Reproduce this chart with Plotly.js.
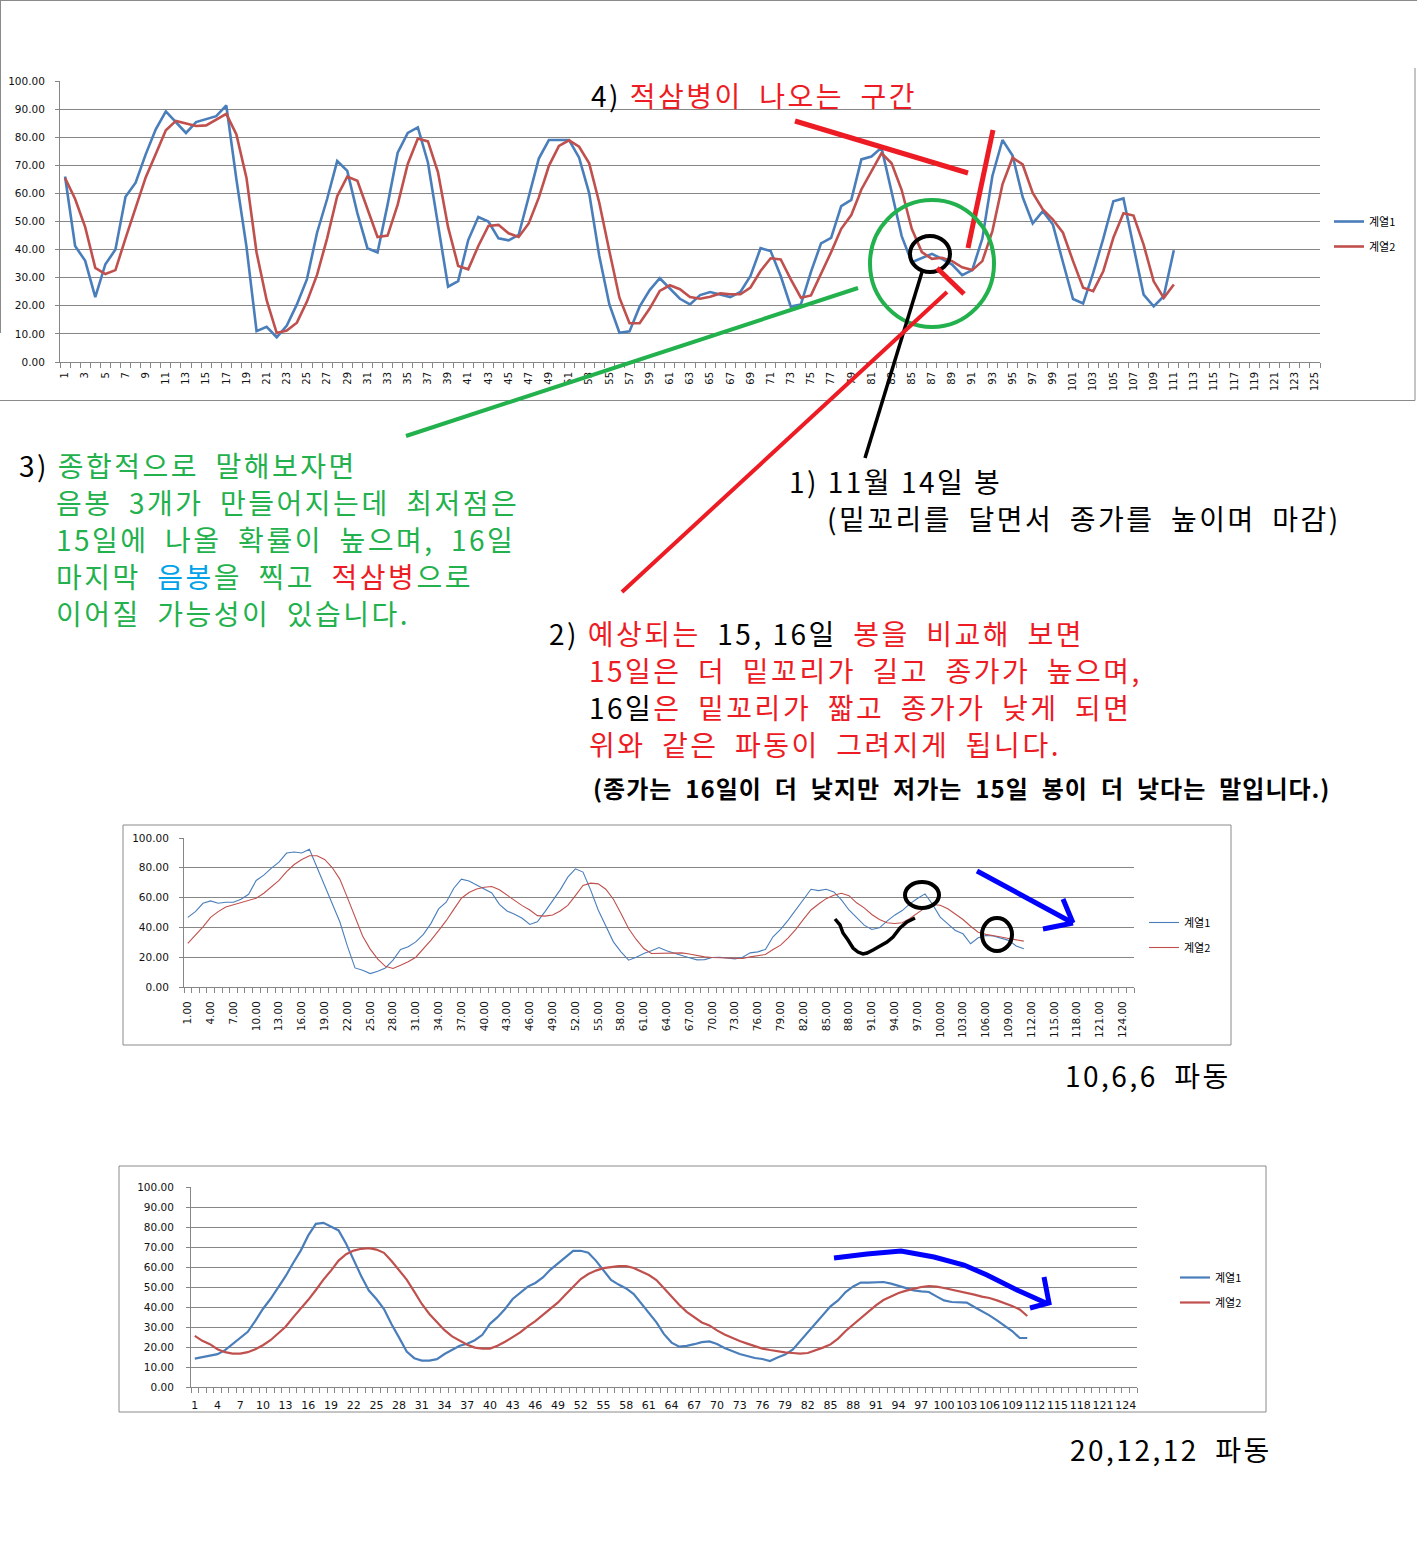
<!DOCTYPE html>
<html>
<head>
<meta charset="utf-8">
<script src="https://cdn.plot.ly/plotly-3.0.1.min.js"></script>
<style>
html,body{margin:0;padding:0;background:#fff;}
#chart{width:1417px;height:1559px;}
.annotation-text{letter-spacing:2.5px;}
</style>
</head>
<body>
<div id="chart"></div>
<script>
// ---------------- DATA ----------------
const days = [1,2,3,4,5,6,7,8,9,10,11,12,13,14,15,16,17,18,19,20,21,22,23,24,25,26,27,28,29,30,31,32,33,34,35,36,37,38,39,40,41,42,43,44,45,46,47,48,49,50,51,52,53,54,55,56,57,58,59,60,61,62,63,64,65,66,67,68,69,70,71,72,73,74,75,76,77,78,79,80,81,82,83,84,85,86,87,88,89,90,91,92,93,94,95,96,97,98,99,100,101,102,103,104,105,106,107,108,109,110,111];

// Chart 1 (top)
const top1 = [66,41.3,36,23.1,34.8,40,58.8,63.8,73.9,82.8,89.2,85.2,81.5,85.4,86.4,87.5,91.3,65,41,11,12.5,8.8,13,20.5,29.5,46,58,71.5,68,53,40.5,39,56,74.5,81.5,83.5,71,49,26.8,28.8,43.4,51.6,50,44,43.3,45.2,58.5,72.4,79,79,79,72.7,60,37.7,20.5,10.4,10.9,19.7,25.6,29.8,26.1,22.5,20.5,23.8,24.9,24.1,23.1,24.9,30.6,40.5,39.5,30.6,19.7,20.5,32.1,42.2,44.2,55.5,57.7,72.1,73.1,76.3,60.2,44.8,35.5,37,38.5,36.7,34.7,30.9,32.7,43.9,66.2,79,73.5,58.7,49.3,53.7,48.9,35.5,22.4,20.8,31.7,43.9,57.2,58.2,40.6,24,19.8,23.4,39.8];
const top2 = [65.5,58,48,33.5,31.3,32.7,44,55,65.7,74,82.5,85.8,85,84,84.2,86.3,88.3,81,65.5,39,22,10.3,11.2,14,21.5,31,44,59,66,64.5,54.5,44.5,45,56,70.5,79.5,78.5,67.5,48,34.2,33,41.3,48.4,48.8,45.8,44.5,49.3,58.5,69.8,76.9,78.9,76.6,70.7,56.7,39.5,22.9,13.8,13.8,19,25.3,27.3,25.9,23.1,22.5,23.2,24.4,24.1,24.1,26.5,32.4,36.9,36.5,29.4,22.9,23.7,31.2,39.1,47.4,52.3,61.4,68,74.3,70.7,61.2,47.4,39.1,36.7,37.1,35.9,33.7,32.7,35.9,46.6,63.2,72.7,70.3,60.2,54.3,50.7,46,35.9,26.4,25.2,32.3,44.2,52.9,52.1,41.8,28.7,22.8,27.6];

// Chart 2 (10,6,6)
const mid1 = [46.7,50.6,56.2,57.8,56.2,56.9,56.9,58.9,62.2,71.5,75.1,79.8,83.8,89.9,90.6,89.9,92.4,80.2,69,56.6,43.8,27.4,12.8,11.2,9,10.6,12.8,18,25.2,27,30.3,35.3,42.7,52.4,56.9,66.3,72.4,71.2,68.5,66.1,63.1,55.5,51,48.8,46.1,42,43.8,50.6,57.8,65.2,73.7,79.3,77.1,65.2,51.7,40.9,30.3,23.6,18,20,22.5,24.3,26.5,24.3,22.5,21.1,19.6,18.2,18.4,19.8,20,19.6,18.9,20,22.9,23.6,25.2,33.7,38.7,44.9,51.7,59.1,65.6,64.7,65.6,63.8,58.4,51.7,46.4,41.5,38.6,39.7,44.2,48.2,51.3,55.8,59.4,62.5,55.4,46.9,42.4,37.9,35.7,29,33,34.6,34.2,33,31.3,27.5,25.7];
const mid2 = [29.2,34.6,40.4,46.7,50.6,53.7,55.1,56.4,57.8,59.6,62.9,67.4,71.5,77.5,82.2,85.6,88.1,88.1,85.6,80.2,72.4,60,46.7,34.2,25.4,18.7,13.9,12.4,14.6,16.9,20,25.4,31.5,37.8,44.5,52.1,59.6,63.4,65.8,67,67.4,65.2,61.8,57.8,54.6,51.7,47.9,47.6,48.3,51,54.8,61.3,68.1,69.7,69.2,65.6,58.9,49.4,39.3,31.9,25.8,22.5,22.5,22.7,22.9,22.9,22.2,21.1,20.2,19.8,19.6,19.3,19.1,19.1,20.2,20.9,21.8,25.2,28.1,33,38.7,45.4,51.7,55.7,59.3,61.6,62.9,61.3,56.5,53.1,48.7,45.3,43.1,42.6,43.1,46,49.8,53.1,55.4,54.9,52.5,49.1,45.3,40.8,36.8,35.3,34.2,33.5,32.6,31.9,30.8];

// Chart 3 (20,12,12)
const bot1 = [14.2,15,15.6,16.4,18.4,21.4,24.4,27.6,33.1,39,44,49.8,55.4,62,68.2,75.8,81.6,82.1,80.3,78.3,71.6,63.2,55.4,48.2,44,39,31.4,24.7,17.7,14.4,13.2,13.2,13.9,16.5,18.6,20.6,21.6,23.4,26.1,31.6,34.9,39,44,47.3,50.2,52,54.8,58.7,62,64.9,68.1,68.1,67.1,63.2,58.5,53.5,51.2,49.3,46.5,41.8,37.3,32.3,26.4,22.2,20.2,20.6,21.4,22.4,22.8,21.5,19.5,17.8,16.5,15.5,14.5,14,13,14.7,16.2,18.7,23,27.5,32,36.3,40.3,43.3,47.5,50.3,52.2,52.2,52.2,52.5,51.7,50.5,49.2,48.3,47.8,47.5,45.3,43.3,42.5,42.3,42.2,40,38,35.8,33.3,30.8,28,24.5,24.5];
const bot2 = [25.6,23.1,21.4,18.9,17.4,16.7,16.7,17.4,18.9,20.9,23.4,26.8,30.1,34.8,39,43.6,48.5,53.7,58.2,63.2,66.4,68.2,69.1,69.4,68.7,67.1,63,58.5,53.7,47.7,41.5,36.5,32.3,28.4,25.3,23.1,21.1,19.7,19.2,19.2,20.6,22.6,25.1,27.3,30.3,32.9,36.1,39.3,42.3,46.2,50.2,54,56.5,58.2,59.4,60,60.4,60.4,59.5,57.7,56,53.5,49.3,44.8,41.1,37.6,34.8,32.3,30.8,28.3,26.3,24.5,23,21.7,20.3,19.2,18.5,17.8,17.3,17,16.7,17,18.2,19.7,21.3,24.2,28,31.2,34.5,37.8,40.8,43.5,45.3,47,48.2,49.2,50,50.5,50.2,49.5,48.7,48,47.2,46.2,45.2,44.5,43.3,42,40.5,38.8,35.5];

const seriesNames = ["계열1", "계열2"];

// tick labels
const topTicks = [1,3,5,7,9,11,13,15,17,19,21,23,25,27,29,31,33,35,37,39,41,43,45,47,49,51,53,55,57,59,61,63,65,67,69,71,73,75,77,79,81,83,85,87,89,91,93,95,97,99,101,103,105,107,109,111,113,115,117,119,121,123,125];
const lowTicks = [1,4,7,10,13,16,19,22,25,28,31,34,37,40,43,46,49,52,55,58,61,64,67,70,73,76,79,82,85,88,91,94,97,100,103,106,109,112,115,118,121,124];
const midTickText = ["1.00","4.00","7.00","10.00","13.00","16.00","19.00","22.00","25.00","28.00","31.00","34.00","37.00","40.00","43.00","46.00","49.00","52.00","55.00","58.00","61.00","64.00","67.00","70.00","73.00","76.00","79.00","82.00","85.00","88.00","91.00","94.00","97.00","100.00","103.00","106.00","109.00","112.00","115.00","118.00","121.00","124.00"];
const botTickText = ["1","4","7","10","13","16","19","22","25","28","31","34","37","40","43","46","49","52","55","58","61","64","67","70","73","76","79","82","85","88","91","94","97","100","103","106","109","112","115","118","121","124"];

// ---------------- HELPERS ----------------
const W = 1417, H = 1559;
const px = x => x / W;
const py = y => 1 - y / H;
const BLUE = '#4a7ebb', RED = '#c0504d';
const GRID = '#868686';
const PRED = '#ed1c24', PGREEN = '#22b14c', PBLUE = '#00a2e8';
const KFONT = 'Noto Sans CJK KR, Noto Sans, sans-serif';
const NFONT = 'DejaVu Sans, Verdana, sans-serif';

const boundaries = [];
for (let i = 0; i <= 125; i++) boundaries.push(i + 0.5);

function tr(y, xa, ya, name, color, width, leg, grp) {
  return {x: days, y: y, xaxis: xa, yaxis: ya, name: name, mode: 'lines',
    line: {color: color, width: width}, legend: leg, legendgroup: grp, hoverinfo: 'skip'};
}

const data = [
  tr(top1, 'x', 'y', seriesNames[0], BLUE, 2.6, 'legend', 'a1'),
  tr(top2, 'x', 'y', seriesNames[1], RED, 2.6, 'legend', 'a2'),
  tr(mid1, 'x2', 'y2', seriesNames[0], BLUE, 1.1, 'legend2', 'b1'),
  tr(mid2, 'x2', 'y2', seriesNames[1], RED, 1.1, 'legend2', 'b2'),
  tr(bot1, 'x3', 'y3', seriesNames[0], BLUE, 2.2, 'legend3', 'c1'),
  tr(bot2, 'x3', 'y3', seriesNames[1], RED, 2.2, 'legend3', 'c2')
];

function xax(d0, d1, anchor, tickvals, ticktext, angle, fsize, standoff) {
  return {domain: [px(d0), px(d1)], anchor: anchor, range: [0.5, 125.5],
    tickmode: 'array', tickvals: tickvals, ticktext: ticktext, tickangle: angle,
    tickfont: {family: NFONT, size: fsize, color: '#111'},
    ticks: 'outside', ticklen: 5, tickcolor: 'rgba(0,0,0,0)', ticklabelstandoff: standoff,
    showline: true, linecolor: GRID, linewidth: 1, showgrid: false, zeroline: false,
    minor: {tickmode: 'array', tickvals: boundaries, ticks: 'outside', ticklen: 5, tickcolor: GRID, tickwidth: 1, showgrid: false},
    fixedrange: true};
}
function yax(top, bottom, anchor, dtick, fsize, standoff) {
  return {domain: [py(bottom), py(top)], anchor: anchor, range: [0, 100],
    tickmode: 'linear', tick0: 0, dtick: dtick, tickformat: '.2f',
    tickfont: {family: NFONT, size: fsize, color: '#111'},
    ticks: 'outside', ticklen: 4, tickcolor: GRID, ticklabelstandoff: standoff,
    showline: true, linecolor: GRID, linewidth: 1, showgrid: true, gridcolor: GRID, gridwidth: 1,
    zeroline: false, fixedrange: true};
}

function ann(x, y, text, size, color, extra) {
  return Object.assign({xref: 'paper', yref: 'paper', x: px(x), y: py(y), xanchor: 'left', yanchor: 'middle',
    text: text, showarrow: false, align: 'left',
    font: {family: KFONT, size: size, color: color || '#000'}}, extra || {});
}
const S = '\u2002';
const sp = (c, t) => '<span style="color:' + c + '">' + t + '</span>';

const annotations = [
  ann(589, 95, '4) ' + sp(PRED, '적삼병이' + S + '나오는' + S + '구간'), 28),
  ann(17, 465, '3) ' + sp(PGREEN, '종합적으로' + S + '말해보자면'), 28),
  ann(54, 502, sp(PGREEN, '음봉' + S + '3개가' + S + '만들어지는데' + S + '최저점은'), 28),
  ann(54, 539, sp(PGREEN, '15일에' + S + '나올' + S + '확률이' + S + '높으며,' + S + '16일'), 28),
  ann(54, 576, sp(PGREEN, '마지막' + S) + sp(PBLUE, '음봉') + sp(PGREEN, '을' + S + '찍고' + S) + sp(PRED, '적삼병') + sp(PGREEN, '으로'), 28),
  ann(54, 613, sp(PGREEN, '이어질' + S + '가능성이' + S + '있습니다.'), 28),
  ann(787, 481, '1) 11월 14일 봉', 28),
  ann(825, 518, '(밑꼬리를' + S + '달면서' + S + '종가를' + S + '높이며' + S + '마감)', 28),
  ann(547, 633, '2) ' + sp(PRED, '예상되는') + S + '15, 16일' + S + sp(PRED, '봉을' + S + '비교해' + S + '보면'), 28),
  ann(587, 670, sp(PRED, '15일은' + S + '더' + S + '밑꼬리가' + S + '길고' + S + '종가가' + S + '높으며,'), 28),
  ann(587, 707, '16일' + sp(PRED, '은' + S + '밑꼬리가' + S + '짧고' + S + '종가가' + S + '낮게' + S + '되면'), 28),
  ann(587, 744, sp(PRED, '위와' + S + '같은' + S + '파동이' + S + '그려지게' + S + '됩니다.'), 28),
  ann(591, 788, '<b><span style="letter-spacing:1px">(종가는' + S + '16일이' + S + '더' + S + '낮지만' + S + '저가는' + S + '15일' + S + '봉이' + S + '더' + S + '낮다는' + S + '말입니다.)</span></b>', 24),
  ann(1063, 1075, '10,6,6' + S + '파동', 28),
  ann(1068, 1449, '20,12,12' + S + '파동', 28)
];

function L(x0, y0, x1, y1, color, w) {
  return {type: 'line', xref: 'paper', yref: 'paper', x0: px(x0), y0: py(y0), x1: px(x1), y1: py(y1),
    line: {color: color, width: w}, layer: 'above'};
}
function C(x0, y0, x1, y1, color, w) {
  return {type: 'circle', xref: 'paper', yref: 'paper', x0: px(x0), y0: py(y0), x1: px(x1), y1: py(y1),
    line: {color: color, width: w}, fillcolor: 'rgba(0,0,0,0)', layer: 'above'};
}
function P(pts, color, w) {
  const d = pts.map((p, i) => (i ? 'L' : 'M') + px(p[0]).toFixed(5) + ',' + py(p[1]).toFixed(5)).join(' ');
  return {type: 'path', xref: 'paper', yref: 'paper', path: d, line: {color: color, width: w}, layer: 'above'};
}
function R(x0, y0, x1, y1) {
  return {type: 'rect', xref: 'paper', yref: 'paper', x0: px(x0), y0: py(y0), x1: px(x1), y1: py(y1),
    line: {color: '#8a8a8a', width: 1}, fillcolor: 'rgba(0,0,0,0)', layer: 'below'};
}

const shapes = [
  // frames
  L(0, 0.5, 1417, 0.5, '#8a8a8a', 1),
  L(0.5, 0, 0.5, 333, '#8a8a8a', 1),
  L(0, 400.5, 1415, 400.5, '#8a8a8a', 1),
  L(1415, 68, 1415, 400.5, '#8a8a8a', 1),
  R(123, 825, 1231, 1045),
  R(119, 1166, 1266, 1412),
  // top chart drawings
  L(795, 121, 968, 173, PRED, 5),
  L(993, 130, 968, 248, PRED, 5),
  C(870, 200, 994, 327, PGREEN, 4),
  C(910, 236, 950, 272, '#000', 4),
  L(922, 272, 865, 458, '#000', 3.5),
  L(937, 268, 964, 294, PRED, 5),
  L(947, 292, 622, 592, PRED, 4),
  L(406, 436, 858, 288, PGREEN, 4),
  // chart 2 drawings
  P([[835,919],[840,925],[843,933],[848,940],[853,948],[858,952],[863,954],[867,953],[873,950],[880,946],[887,942],[893,937],[900,928],[907,922],[915,918]], '#000', 3.5),
  C(905, 882, 939, 908, '#000', 4),
  C(982, 918, 1012, 951, '#000', 4),
  L(977, 871, 1073, 923, '#0000ff', 5),
  L(1063, 899, 1073, 923, '#0000ff', 5),
  L(1043, 929, 1073, 923, '#0000ff', 5),
  // chart 3 drawings
  P([[834,1258],[867,1254],[901,1251],[934,1257],[964,1265],[987,1275],[1017,1290],[1046,1303]], '#0000ff', 5),
  P([[1044,1277],[1049,1303],[1030,1308]], '#0000ff', 5)
];

function leg(x, y) {
  return {x: px(x), y: py(y), xanchor: 'left', yanchor: 'top', bgcolor: 'rgba(0,0,0,0)',
    font: {family: KFONT, size: 11, color: '#000'}, tracegroupgap: 6, itemwidth: 30, traceorder: 'grouped'};
}

const layout = {
  width: W, height: H,
  margin: {l: 0, r: 0, t: 0, b: 0, pad: 0},
  paper_bgcolor: '#fff', plot_bgcolor: 'rgba(0,0,0,0)',
  showlegend: true,
  xaxis: xax(60, 1320, 'y', topTicks, topTicks.map(String), -90, 10, 0),
  yaxis: yax(81, 362, 'x', 10, 10.5, 8),
  xaxis2: xax(184, 1134, 'y2', lowTicks, midTickText, -90, 10.5, 4),
  yaxis2: yax(838, 987, 'x2', 20, 10.5, 8),
  xaxis3: xax(191, 1137, 'y3', lowTicks, botTickText, 0, 11, 3),
  yaxis3: yax(1187, 1387, 'x3', 10, 10.5, 10),
  legend: leg(1329, 207),
  legend2: leg(1144, 908),
  legend3: leg(1175, 1263),
  annotations: annotations,
  shapes: shapes
};

Plotly.newPlot('chart', data, layout, {displayModeBar: false, staticPlot: true});
</script>
</body>
</html>
